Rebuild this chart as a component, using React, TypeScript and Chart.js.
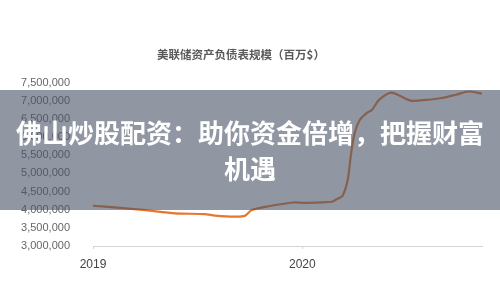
import React, { useEffect, useRef } from "react";
import { Chart, registerables } from "chart.js";

Chart.register(...registerables);

// Months elapsed since January 2019 for each sample
const months = [
  0, 1.4, 3.0, 4.7, 6.4, 7.0, 8.1, 8.7, 9.1, 10.0, 11.5, 12.1, 13.7, 14.0, 14.3,
  14.6, 14.8, 15.0, 15.3, 15.7, 16.0, 16.4, 17.1, 18.2, 19.1, 20.0, 20.8, 21.5, 22.3,
];

// Fed balance sheet size, millions of USD
const balance = [
  4110000, 4060000, 3990000, 3900000, 3880000, 3840000, 3810000, 3830000, 3990000,
  4090000, 4200000, 4190000, 4220000, 4300000, 4380000, 4820000, 5570000, 6120000,
  6480000, 6670000, 6760000, 7030000, 7230000, 7010000, 7030000, 7080000, 7170000,
  7260000, 7200000,
];

const yearTicks = [0, 12];
const yearLabels = ["2019", "2020"];

const chartTitle = "美联储资产负债表规模（百万$）";
const bannerLines = ["佛山炒股配资：助你资金倍增，把握财富", "机遇"];

export default function App() {
  const canvasRef = useRef<HTMLCanvasElement | null>(null);

  useEffect(() => {
    if (!canvasRef.current) return;
    const points = months.map((m, i) => ({ x: m, y: balance[i] }));
    const chart = new Chart(canvasRef.current, {
      type: "line",
      data: {
        datasets: [
          {
            data: points,
            borderColor: "#e8762d",
            borderWidth: 2.2,
            pointRadius: 0,
            tension: 0.25,
            fill: false,
          },
        ],
      },
      options: {
        animation: false,
        responsive: false,
        maintainAspectRatio: false,
        layout: { padding: { top: 0, right: 18, bottom: 0, left: 0 } },
        plugins: {
          legend: { display: false },
          tooltip: { enabled: false },
          title: {
            display: true,
            text: chartTitle,
            color: "#595959",
            font: { family: "'Noto Sans CJK SC', sans-serif", size: 11.5, weight: "bold" },
            padding: { top: 48, bottom: 21 },
          },
        },
        scales: {
          x: {
            type: "linear",
            min: 0,
            max: 22.3,
            afterBuildTicks: (scale: any) => {
              scale.ticks = yearTicks.map((v) => ({ value: v }));
            },
            afterFit: (scale: any) => {
              scale.height = 54;
            },
            ticks: {
              color: "#444",
              padding: 8,
              font: { family: "'Liberation Sans', Arial, sans-serif", size: 12 },
              callback: (v: any) => {
                const idx = yearTicks.indexOf(Number(v));
                return idx >= 0 ? yearLabels[idx] : "";
              },
            },
            grid: { drawOnChartArea: false, drawTicks: true, tickLength: 3, color: "#d4d4d4" },
            border: { display: true, color: "#d4d4d4", width: 1 },
          },
          y: {
            min: 3000000,
            max: 7500000,
            afterFit: (scale: any) => {
              scale.width = 93;
            },
            ticks: {
              stepSize: 500000,
              color: "#666",
              padding: 15,
              font: { family: "'Liberation Sans', Arial, sans-serif", size: 11 },
              callback: (v: any) => Number(v).toLocaleString("en-US"),
            },
            grid: { display: false },
            border: { display: false },
          },
        },
      },
    });
    return () => chart.destroy();
  }, []);

  return (
    <div
      style={{
        position: "fixed",
        left: 0,
        top: 0,
        width: 500,
        height: 300,
        background: "#fff",
        overflow: "hidden",
      }}
    >
      <canvas ref={canvasRef} width={500} height={300} style={{ display: "block" }} />
      <div
        style={{
          position: "absolute",
          left: 0,
          top: 90,
          width: 500,
          height: 120,
          background: "rgba(70, 82, 100, 0.6)",
          display: "flex",
          flexDirection: "column",
          alignItems: "center",
          justifyContent: "center",
          color: "#fff",
          fontFamily: "'Noto Sans CJK SC', sans-serif",
          fontWeight: "bold",
          fontSize: 26,
          lineHeight: "36px",
          textAlign: "center",
        }}
      >
        {bannerLines.map((line, i) => (
          <div key={i} style={{ whiteSpace: "nowrap" }}>
            {line}
          </div>
        ))}
      </div>
    </div>
  );
}
